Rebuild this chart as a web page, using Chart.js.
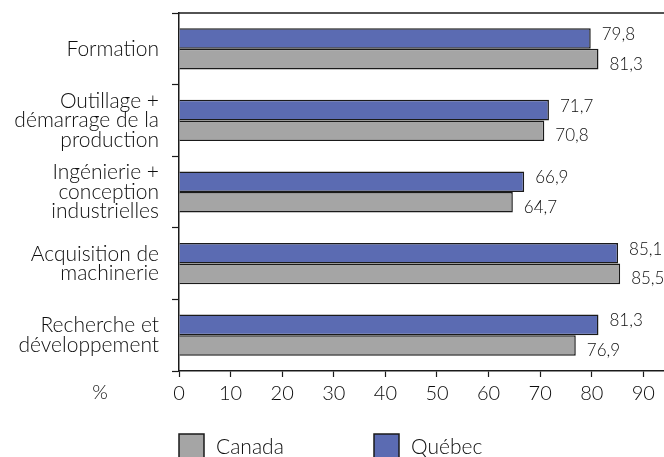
<!DOCTYPE html>
<html>
<head>
<meta charset="utf-8">
<script src="https://cdn.jsdelivr.net/npm/chart.js@4"></script>
<style>
  html, body { margin: 0; padding: 0; background: #fff; overflow: hidden; }
  #wrap { width: 664px; height: 457px; position: relative; }
</style>
</head>
<body>
<div id="wrap"><canvas id="chart"></canvas></div>
<script>
const categories = [
    "Formation",
    ["Outillage +", "démarrage de la", "production"],
    ["Ingénierie +", "conception", "industrielles"],
    ["Acquisition de", "machinerie"],
    ["Recherche et", "développement"],
];
const quebec = [79.8, 71.7, 66.9, 85.1, 81.3];
const canada = [81.3, 70.8, 64.7, 85.5, 76.9];
const xTicks = [0, 10, 20, 30, 40, 50, 60, 70, 80, 90];

const FONT = "Lato";
const WEIGHT = "300";
const TEXT = "#0d0d0d";
const LINE = "#1a1a1a";

// value labels, % sign, top line, legend
const extras = {
    id: "extras",
    afterDatasetsDraw(chart) {
        const ctx = chart.ctx;
        const area = chart.chartArea;
        ctx.save();
        ctx.fillStyle = TEXT;
        ctx.font = WEIGHT + " 17px " + FONT;
        ctx.textBaseline = "middle";
        ctx.textAlign = "left";
        chart.data.datasets.forEach((ds, i) => {
            const meta = chart.getDatasetMeta(i);
            const dy = i === 0 ? -4 : 5;
            meta.data.forEach((bar, j) => {
                const txt = ds.data[j].toFixed(1).replace(".", ",");
                ctx.fillText(txt, bar.x + 11, bar.y + dy);
            });
        });

        // top border line
        ctx.strokeStyle = LINE;
        ctx.lineWidth = 1.5;
        ctx.beginPath();
        ctx.moveTo(area.left, area.top);
        ctx.lineTo(area.right, area.top);
        ctx.stroke();

        // % sign on the x axis row
        ctx.font = WEIGHT + " 20px " + FONT;
        ctx.textAlign = "center";
        ctx.fillText("%", area.left - 79, area.bottom + 22);

        // legend: Canada then Québec
        const items = [
            { ds: chart.data.datasets[1], x: area.left },
            { ds: chart.data.datasets[0], x: area.left + 195 },
        ];
        ctx.font = WEIGHT + " 21px " + FONT;
        ctx.textBaseline = "alphabetic";
        ctx.textAlign = "left";
        items.forEach((it) => {
            ctx.fillStyle = it.ds.backgroundColor;
            ctx.fillRect(it.x, area.bottom + 63, 25, 30);
            ctx.strokeStyle = LINE;
            ctx.lineWidth = 1.5;
            ctx.strokeRect(it.x, area.bottom + 63, 25, 30);
            ctx.fillStyle = TEXT;
            ctx.fillText(it.ds.label, it.x + 37, area.bottom + 83);
        });
        ctx.restore();
    },
};

new Chart(document.getElementById("chart"), {
    type: "bar",
    data: {
        labels: categories,
        datasets: [
            {
                label: "Québec",
                data: quebec,
                backgroundColor: "#5b6bb2",
                borderColor: LINE,
                borderWidth: 1.5,
                categoryPercentage: 0.575,
                barPercentage: 1,
            },
            {
                label: "Canada",
                data: canada,
                backgroundColor: "#a5a5a5",
                borderColor: LINE,
                borderWidth: 1.5,
                categoryPercentage: 0.575,
                barPercentage: 1,
            },
        ],
    },
    options: {
        indexAxis: "y",
        responsive: true,
        maintainAspectRatio: false,
        animation: false,
        layout: { padding: { top: 13, right: 0, left: 0, bottom: 0 } },
        scales: {
            x: {
                min: 0,
                max: 94,
                afterBuildTicks: (axis) => {
                    axis.ticks = xTicks.map((v) => ({ value: v }));
                },
                afterFit: (scale) => {
                    scale.height = 86;
                    scale.paddingLeft = 0;
                    scale.paddingRight = 0;
                },
                grid: {
                    drawOnChartArea: false,
                    tickLength: 6,
                    color: LINE,
                    tickWidth: 1.2,
                },
                border: { color: LINE, width: 1.5 },
                ticks: {
                    color: TEXT,
                    font: { family: FONT, size: 20, weight: WEIGHT },
                    padding: 5,
                    maxRotation: 0,
                    autoSkip: false,
                },
            },
            y: {
                afterFit: (scale) => {
                    scale.width = 179;
                    scale.paddingTop = 0;
                    scale.paddingBottom = 0;
                },
                grid: {
                    drawOnChartArea: false,
                    offset: true,
                    tickLength: 7,
                    color: LINE,
                    tickWidth: 1.2,
                },
                border: { color: LINE, width: 1.5 },
                ticks: {
                    color: TEXT,
                    font: { family: FONT, size: 21, weight: WEIGHT, lineHeight: 0.93 },
                    padding: 13,
                },
            },
        },
        plugins: {
            legend: { display: false },
            tooltip: { enabled: false },
        },
    },
    plugins: [extras],
});
</script>
</body>
</html>
